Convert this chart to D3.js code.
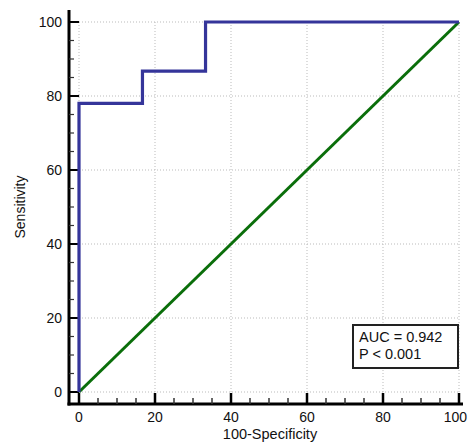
<!DOCTYPE html>
<html><head><meta charset="utf-8">
<script src="https://cdn.jsdelivr.net/npm/d3@7"></script>
<style>body{margin:0;background:#fff}svg{display:block}text{font-family:"Liberation Sans",Arial,sans-serif}</style>
</head><body><svg id="c" width="468" height="446"></svg>
<script>
const rocX = [0, 0, 16.7, 16.7, 33.3, 33.3, 100];
const rocY = [0, 78, 78, 86.7, 86.7, 100, 100];
const refX = [0, 100];
const refY = [0, 100];
const majorTicks = [0, 20, 40, 60, 80, 100];
const minorTicks = d3.range(0, 101, 5);
const xLabel = "100-Specificity";
const yLabel = "Sensitivity";
const annot = ["AUC = 0.942", "P < 0.001"];

const svg = d3.select("#c");
const x = d3.scaleLinear().domain([0, 100]).range([79, 459]);
const y = d3.scaleLinear().domain([0, 100]).range([392, 22]);

// grid
const g = svg.append("g");
majorTicks.forEach(t => {
  g.append("line").attr("x1", x(t)).attr("x2", x(t)).attr("y1", y(0)).attr("y2", y(100))
    .attr("stroke", "#bbb").attr("stroke-width", 1).attr("stroke-dasharray", "1,2");
  g.append("line").attr("x1", x(0)).attr("x2", x(100)).attr("y1", y(t)).attr("y2", y(t))
    .attr("stroke", "#bbb").attr("stroke-width", 1).attr("stroke-dasharray", "1,2");
});

// axes lines
const axY = 404, axX = 69;
svg.append("line").attr("x1", axX).attr("x2", axX).attr("y1", 10).attr("y2", axY + 1.5).attr("stroke", "#000").attr("stroke-width", 3);
svg.append("line").attr("x1", axX - 1.5).attr("x2", 463).attr("y1", axY).attr("y2", axY).attr("stroke", "#000").attr("stroke-width", 3);

// ticks
minorTicks.forEach(t => {
  const major = t % 20 === 0;
  svg.append("line").attr("x1", axX).attr("x2", major ? x(0) : axX + 5)
    .attr("y1", y(t)).attr("y2", y(t)).attr("stroke", major ? "#000" : "#333").attr("stroke-width", major ? 2 : 1.2);
  svg.append("line").attr("y1", axY).attr("y2", major ? axY - 11 : axY - 6)
    .attr("x1", x(t)).attr("x2", x(t)).attr("stroke", major ? "#000" : "#333").attr("stroke-width", major ? 2.5 : 1.5);
});
majorTicks.forEach(t => {
  svg.append("text").attr("x", 62).attr("y", y(t) + 5).attr("text-anchor", "end")
    .attr("font-size", 14).attr("fill", "#111").text(t);
  const last = t === 100;
  svg.append("text").attr("x", last ? 467 : x(t)).attr("y", 422).attr("text-anchor", last ? "end" : "middle")
    .attr("font-size", 14).attr("fill", "#111").text(t);
});

svg.append("text").attr("x", 270).attr("y", 439).attr("text-anchor", "middle").attr("font-size", 14.5).attr("fill", "#111").text(xLabel);
svg.append("text").attr("transform", "translate(25,207) rotate(-90)").attr("text-anchor", "middle").attr("font-size", 14).attr("fill", "#111").text(yLabel);

const line = d3.line().x(d => x(d[0])).y(d => y(d[1]));
svg.append("path").datum(refX.map((v, i) => [v, refY[i]])).attr("d", line)
  .attr("fill", "none").attr("stroke", "#0a6e0a").attr("stroke-width", 3);
svg.append("path").datum(rocX.map((v, i) => [v, rocY[i]])).attr("d", line)
  .attr("fill", "none").attr("stroke", "#35359a").attr("stroke-width", 3.2).attr("stroke-linejoin", "miter");

// annotation box
svg.append("rect").attr("x", 353).attr("y", 325).attr("width", 105).attr("height", 43)
  .attr("fill", "#fff").attr("stroke", "#222").attr("stroke-width", 2);
annot.forEach((t, i) => svg.append("text").attr("x", 359).attr("y", 342 + i * 17)
  .attr("font-size", 14.5).attr("fill", "#111").text(t));
</script></body></html>
